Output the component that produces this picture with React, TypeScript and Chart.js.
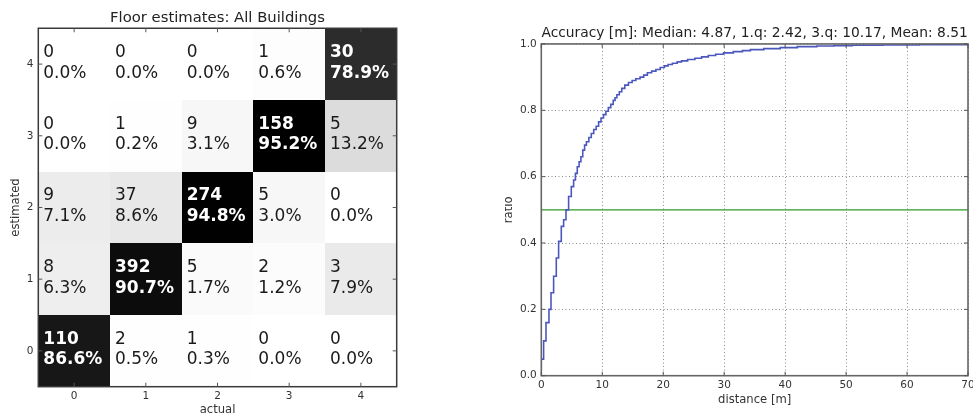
import React, { useEffect, useRef } from 'react';
import { Chart, registerables } from 'chart.js';

Chart.register(...registerables);

const FONT = '"DejaVu Sans", "Liberation Sans", sans-serif';

// ---------- Left panel: floor confusion matrix ----------
const floorTicks = [0, 1, 2, 3, 4];
// counts per estimated floor (row), columns = actual floor 0..4
const countsEst0 = [110, 2, 1, 0, 0];
const countsEst1 = [8, 392, 5, 2, 3];
const countsEst2 = [9, 37, 274, 5, 0];
const countsEst3 = [0, 1, 9, 158, 5];
const countsEst4 = [0, 0, 0, 1, 30];
// percentages per estimated floor (row), columns = actual floor 0..4
const pctEst0 = [86.6, 0.5, 0.3, 0.0, 0.0];
const pctEst1 = [6.3, 90.7, 1.7, 1.2, 7.9];
const pctEst2 = [7.1, 8.6, 94.8, 3.0, 0.0];
const pctEst3 = [0.0, 0.2, 3.1, 95.2, 13.2];
const pctEst4 = [0.0, 0.0, 0.0, 0.6, 78.9];

const heatTitle = 'Floor estimates: All Buildings';

// ---------- Right panel: accuracy CDF ----------
const cdfDistance = [
  0, 0.38, 0.77, 1.26, 1.59, 2.02, 2.46, 2.84, 3.28, 3.66, 4.05, 4.48, 4.92, 5.3,
  5.6, 5.9, 6.2, 6.5, 6.8, 7.1, 7.4, 7.8, 8.2, 8.6, 9.0, 9.4, 9.8, 10.2, 10.6,
  11.0, 11.4, 11.8, 12.1, 12.4, 12.8, 13.2, 13.7, 14.3, 14.9, 15.5, 16.2, 16.8,
  17.4, 18.1, 18.8, 19.5, 20.2, 20.8, 21.5, 22.3, 23.0, 24.0, 25.2, 26.3, 27.4,
  28.6, 29.9, 31.5, 33, 34.3, 36.5, 39.2, 42, 45.2, 48, 51, 56, 62, 70,
];
const cdfRatio = [
  0.017, 0.05, 0.105, 0.16, 0.2, 0.25, 0.3, 0.355, 0.405, 0.45, 0.47, 0.5, 0.54, 0.57,
  0.59, 0.61, 0.63, 0.645, 0.66, 0.68, 0.695, 0.705, 0.718, 0.73, 0.742, 0.752, 0.765, 0.777, 0.787,
  0.797, 0.808, 0.818, 0.83, 0.838, 0.847, 0.856, 0.866, 0.876, 0.884, 0.89, 0.895, 0.9,
  0.906, 0.913, 0.918, 0.923, 0.929, 0.934, 0.938, 0.942, 0.946, 0.949, 0.953, 0.957, 0.961,
  0.965, 0.969, 0.973, 0.977, 0.98, 0.983, 0.986, 0.989, 0.992, 0.994, 0.995, 0.996, 0.997, 0.998,
];
const medianLineX = [0, 70];
const medianLineY = [0.5, 0.5];
const distanceTicks = [0, 10, 20, 30, 40, 50, 60, 70];
const ratioTicks = [0, 0.2, 0.4, 0.6, 0.8, 1.0];
const accTitle = 'Accuracy [m]: Median: 4.87, 1.q: 2.42, 3.q: 10.17, Mean: 8.51';

const drawInwardTicks = (chart: any) => {
  const { ctx, chartArea: a, scales } = chart;
  ctx.lineWidth = 1;
  ctx.strokeStyle = '#555';
  ctx.beginPath();
  scales.x.ticks.forEach((t: any) => {
    const px = scales.x.getPixelForValue(t.value);
    ctx.moveTo(px, a.bottom); ctx.lineTo(px, a.bottom - 4);
    ctx.moveTo(px, a.top); ctx.lineTo(px, a.top + 4);
  });
  scales.y.ticks.forEach((t: any) => {
    const py = scales.y.getPixelForValue(t.value);
    ctx.moveTo(a.left, py); ctx.lineTo(a.left + 4, py);
    ctx.moveTo(a.right, py); ctx.lineTo(a.right - 4, py);
  });
  ctx.stroke();
};

const heatmapPlugin = {
  id: 'heatmapCells',
  beforeDatasetsDraw(chart: any) {
    const { ctx, scales } = chart;
    const x = scales.x;
    const y = scales.y;
    const data = chart.data.datasets[0].data as any[];
    const maxP = Math.max(...data.map((d) => d.p));
    ctx.save();
    data.forEach((d) => {
      const x0 = Math.round(x.getPixelForValue(d.x - 0.5));
      const x1 = Math.round(x.getPixelForValue(d.x + 0.5));
      const y0 = Math.round(y.getPixelForValue(d.y + 0.5));
      const y1 = Math.round(y.getPixelForValue(d.y - 0.5));
      const g = Math.round(255 * (1 - d.p / maxP));
      ctx.fillStyle = `rgb(${g},${g},${g})`;
      ctx.fillRect(x0, y0, x1 - x0, y1 - y0);
    });
    data.forEach((d) => {
      const left = x.getPixelForValue(d.x - 0.5);
      const cy = y.getPixelForValue(d.y);
      const dark = d.p > 50;
      ctx.fillStyle = dark ? '#ffffff' : '#1a1a1a';
      ctx.font = `${dark ? 'bold ' : ''}17px ${FONT}`;
      ctx.textAlign = 'left';
      ctx.textBaseline = 'alphabetic';
      ctx.fillText(String(d.c), left + 5, cy - 7);
      ctx.fillText(d.p.toFixed(1) + '%', left + 5, cy + 13.5);
    });
    ctx.restore();
  },
  afterDraw(chart: any) {
    const { ctx, chartArea: a } = chart;
    ctx.save();
    ctx.strokeStyle = '#3a3a3a';
    ctx.lineWidth = 1.5;
    ctx.strokeRect(a.left, a.top, a.right - a.left, a.bottom - a.top);
    drawInwardTicks(chart);
    ctx.restore();
  },
};

const framePlugin = {
  id: 'frame',
  afterDraw(chart: any) {
    const { ctx, chartArea: a } = chart;
    ctx.save();
    ctx.strokeStyle = '#666';
    ctx.lineWidth = 1.6;
    ctx.strokeRect(a.left, a.top, a.right - a.left, a.bottom - a.top);
    drawInwardTicks(chart);
    ctx.restore();
  },
};

export default function App() {
  const leftRef = useRef<HTMLCanvasElement>(null);
  const rightRef = useRef<HTMLCanvasElement>(null);

  useEffect(() => {
    const rows = [countsEst0, countsEst1, countsEst2, countsEst3, countsEst4];
    const pcts = [pctEst0, pctEst1, pctEst2, pctEst3, pctEst4];
    const cells: any[] = [];
    floorTicks.forEach((est) => {
      floorTicks.forEach((act) => {
        cells.push({ x: act, y: est, c: rows[est][act], p: pcts[est][act] });
      });
    });

    const tickFont = { family: FONT, size: 10.5 };
    const labelFont = { family: FONT, size: 11.6 };

    const left = new Chart(leftRef.current as HTMLCanvasElement, {
      type: 'scatter',
      data: { datasets: [{ data: cells, pointRadius: 0, pointHoverRadius: 0 }] },
      plugins: [heatmapPlugin],
      options: {
        responsive: false,
        animation: false,
        events: [],
        layout: { padding: { left: 0, top: 0, right: 23.3, bottom: 0 } },
        plugins: {
          legend: { display: false },
          tooltip: { enabled: false },
          title: {
            display: true,
            text: heatTitle,
            fullSize: false,
            color: '#222',
            font: { family: FONT, size: 14.8, weight: 'normal' },
            padding: { top: 9.4, bottom: 1.1 },
          },
        },
        scales: {
          x: {
            type: 'linear',
            min: -0.5,
            max: 4.5,
            afterBuildTicks: (s: any) => { s.ticks = floorTicks.map((v) => ({ value: v })); },
            afterFit: (s: any) => { s.height = 30.3; s.paddingLeft = 0; s.paddingRight = 0; },
            ticks: { font: tickFont, color: '#333', padding: 3, maxRotation: 0, autoSkip: false, callback: (v: any) => String(v) },
            grid: { display: false, drawTicks: false },
            border: { display: false },
            title: { display: true, text: 'actual', color: '#333', font: labelFont, padding: { top: 0, bottom: 0 } },
          },
          y: {
            type: 'linear',
            min: -0.5,
            max: 4.5,
            afterBuildTicks: (s: any) => { s.ticks = floorTicks.map((v) => ({ value: v })); },
            afterFit: (s: any) => { s.width = 38.3; s.paddingTop = 0; s.paddingBottom = 0; },
            ticks: { font: tickFont, color: '#333', padding: 4.8, autoSkip: false, callback: (v: any) => String(v) },
            grid: { display: false, drawTicks: false },
            border: { display: false },
            title: { display: true, text: 'estimated', color: '#333', font: labelFont, padding: { top: 9, bottom: 0 } },
          },
        },
      } as any,
    });

    const right = new Chart(rightRef.current as HTMLCanvasElement, {
      type: 'line',
      data: {
        datasets: [
          {
            data: cdfDistance.map((d, i) => ({ x: d, y: cdfRatio[i] })),
            borderColor: '#4c57bd',
            borderWidth: 1.6,
            pointRadius: 0,
            stepped: 'after',
            fill: false,
          },
          {
            data: medianLineX.map((d, i) => ({ x: d, y: medianLineY[i] })),
            borderColor: '#2a9a2a',
            borderWidth: 1.3,
            pointRadius: 0,
            fill: false,
          },
        ],
      },
      plugins: [framePlugin],
      options: {
        responsive: false,
        animation: false,
        events: [],
        layout: { padding: { left: 0, top: 0, right: 5, bottom: 0 } },
        plugins: {
          legend: { display: false },
          tooltip: { enabled: false },
          title: {
            display: true,
            text: accTitle,
            fullSize: false,
            color: '#222',
            font: { family: FONT, size: 13.8, weight: 'normal' },
            padding: { top: 25, bottom: 2.4 },
          },
        },
        scales: {
          x: {
            type: 'linear',
            min: 0,
            max: 70,
            afterBuildTicks: (s: any) => { s.ticks = distanceTicks.map((v) => ({ value: v })); },
            afterFit: (s: any) => { s.height = 41.3; s.paddingLeft = 0; s.paddingRight = 0; },
            ticks: { font: tickFont, color: '#333', padding: 3, maxRotation: 0, autoSkip: false, callback: (v: any) => String(v) },
            grid: { color: 'rgba(0,0,0,0.45)', lineWidth: 1, drawTicks: false },
            border: { display: false, dash: [1, 2.5] },
            title: { display: true, text: 'distance [m]', color: '#333', font: labelFont, padding: { top: 0, bottom: 10 } },
          },
          y: {
            type: 'linear',
            min: 0,
            max: 1,
            afterBuildTicks: (s: any) => { s.ticks = ratioTicks.map((v) => ({ value: v })); },
            afterFit: (s: any) => { s.width = 36.3; s.paddingTop = 0; s.paddingBottom = 0; },
            ticks: { font: tickFont, color: '#333', padding: 4.5, autoSkip: false, callback: (v: any) => Number(v).toFixed(1) },
            grid: { color: 'rgba(0,0,0,0.45)', lineWidth: 1, drawTicks: false },
            border: { display: false, dash: [1, 2.5] },
            title: { display: true, text: 'ratio', color: '#333', font: labelFont, padding: { top: -2.5, bottom: 0 } },
          },
        },
      } as any,
    });

    return () => {
      left.destroy();
      right.destroy();
    };
  }, []);

  return (
    <div style={{ position: 'absolute', left: 0, top: 0, width: 973, height: 417, background: '#fff', overflow: 'hidden' }}>
      <canvas ref={leftRef} width={420} height={417} style={{ position: 'absolute', left: 0, top: 0, width: 420, height: 417 }} />
      <canvas ref={rightRef} width={468} height={417} style={{ position: 'absolute', left: 505, top: 0, width: 468, height: 417 }} />
    </div>
  );
}
